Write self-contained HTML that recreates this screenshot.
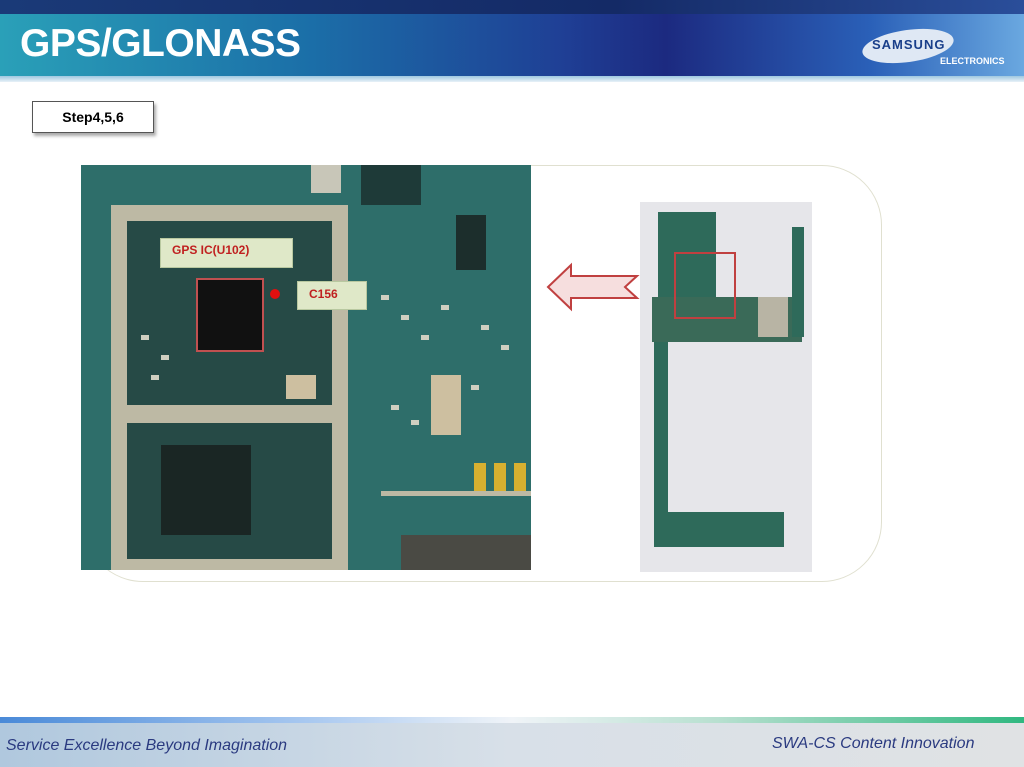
<!DOCTYPE html>
<html><head><meta charset="utf-8"><style>
body{margin:0;width:1024px;height:767px;overflow:hidden;background:#fff;font-family:"Liberation Sans",sans-serif;position:relative}
.a{position:absolute}
.c{position:absolute;width:8px;height:5px;background:#cfcfc0}
</style></head><body>
<div class="a" style="left:0;top:0;width:1024px;height:14px;background:linear-gradient(90deg,#1a3a78,#142a66 60%,#2a4e9a)"></div>
<div class="a" style="left:0;top:14px;width:1024px;height:64px;background:linear-gradient(90deg,#2aa0b8 0%,#1b6fa8 30%,#1f3f95 55%,#1c2a80 65%,#2a60b8 85%,#6aa8e0 100%)"></div>
<div class="a" style="left:0;top:76px;width:1024px;height:6px;background:linear-gradient(180deg,#9ec8e0,#e8f2f8)"></div>
<div class="a" style="left:20px;top:22px;font-size:39px;font-weight:bold;color:#fff;letter-spacing:-0.5px">GPS/GLONASS</div>
<div class="a" style="left:862px;top:30px;width:92px;height:32px;border-radius:50%;background:#dfe8f4;transform:rotate(-8deg)"></div>
<div class="a" style="left:872px;top:37px;font-size:13px;font-weight:bold;color:#1a3f8a;letter-spacing:1px">SAMSUNG</div>
<div class="a" style="left:940px;top:56px;font-size:9px;font-weight:bold;color:#fff">ELECTRONICS</div>

<div class="a" style="left:32px;top:101px;width:120px;height:30px;border:1px solid #555;background:#fff;box-shadow:2px 3px 3px #aaa;text-align:center;line-height:30px;font-size:14px;font-weight:bold">Step4,5,6</div>

<div class="a" style="left:83px;top:165px;width:797px;height:415px;border:1px solid #e0e0d0;border-radius:60px"></div>

<div class="a" style="left:81px;top:165px;width:450px;height:405px;background:#2e6e6a;overflow:hidden">
 <div class="a" style="left:30px;top:40px;width:237px;height:370px;border:16px solid #bdb9a4;box-sizing:border-box;background:#264a46"></div>
 <div class="a" style="left:30px;top:240px;width:237px;height:18px;background:#bdb9a4"></div>
 <div class="a" style="left:230px;top:0;width:30px;height:28px;background:#c8c6b8"></div>
 <div class="a" style="left:300px;top:326px;width:150px;height:5px;background:#bdb9a4"></div>
 <div class="a" style="left:393px;top:298px;width:12px;height:28px;background:#d8b030"></div>
 <div class="a" style="left:413px;top:298px;width:12px;height:28px;background:#d8b030"></div>
 <div class="a" style="left:433px;top:298px;width:12px;height:28px;background:#d8b030"></div>
 <div class="a" style="left:375px;top:50px;width:30px;height:55px;background:#1c2e2c"></div>
 <div class="a" style="left:280px;top:0;width:60px;height:40px;background:#1e3a38"></div>
 <div class="a" style="left:350px;top:210px;width:30px;height:60px;background:#cdbfa0"></div>
 <div class="a" style="left:320px;top:370px;width:130px;height:35px;background:#4a4a44"></div>
 <div class="a" style="left:80px;top:280px;width:90px;height:90px;background:#1a2624"></div>
 <div class="c" style="left:300px;top:130px"></div><div class="c" style="left:320px;top:150px"></div><div class="c" style="left:340px;top:170px"></div>
 <div class="c" style="left:310px;top:240px"></div><div class="c" style="left:330px;top:255px"></div><div class="c" style="left:360px;top:140px"></div>
 <div class="c" style="left:400px;top:160px"></div><div class="c" style="left:420px;top:180px"></div><div class="c" style="left:390px;top:220px"></div>
 <div class="c" style="left:60px;top:170px"></div><div class="c" style="left:80px;top:190px"></div><div class="c" style="left:70px;top:210px"></div>
 <div class="a" style="left:205px;top:210px;width:30px;height:24px;background:#cdbfa0"></div>
</div>
<div class="a" style="left:160px;top:238px;width:131px;height:28px;background:#dfe8c8;border:1px solid #b8c8a0"></div>
<div class="a" style="left:172px;top:243px;font-size:12px;font-weight:bold;color:#c02020">GPS IC(U102)</div>
<div class="a" style="left:196px;top:278px;width:68px;height:74px;border:2px solid #c05050;background:#111;box-sizing:border-box"></div>
<div class="a" style="left:270px;top:289px;width:10px;height:10px;border-radius:50%;background:#e01010"></div>
<div class="a" style="left:297px;top:281px;width:68px;height:27px;background:#dfe8c8;border:1px solid #b8c8a0"></div>
<div class="a" style="left:309px;top:287px;font-size:12px;font-weight:bold;color:#c02020">C156</div>

<svg class="a" style="left:545px;top:262px" width="96" height="50"><polygon points="3,25 26,3 26,14 92,14 80,25 92,36 26,36 26,47" fill="#f6dede" stroke="#c04040" stroke-width="2"/></svg>

<div class="a" style="left:640px;top:202px;width:172px;height:370px;background:#e6e6ea;overflow:hidden">
 <div class="a" style="left:18px;top:10px;width:58px;height:110px;background:#2e6a5a"></div>
 <div class="a" style="left:12px;top:95px;width:150px;height:45px;background:#3a6a58"></div>
 <div class="a" style="left:118px;top:95px;width:30px;height:40px;background:#b8b4a4"></div>
 <div class="a" style="left:14px;top:140px;width:14px;height:180px;background:#2e6a5a"></div>
 <div class="a" style="left:14px;top:310px;width:130px;height:35px;background:#2e6a5a"></div>
 <div class="a" style="left:152px;top:25px;width:12px;height:110px;background:#2e6a5a"></div>
 <div class="a" style="left:34px;top:50px;width:58px;height:63px;border:2px solid #c04040"></div>
</div>

<div class="a" style="left:0;top:717px;width:1024px;height:6px;background:linear-gradient(90deg,#4a8ad8,#a8c8f0 30%,#f0f4f8 50%,#b8e0d0 70%,#30b880)"></div>
<div class="a" style="left:0;top:723px;width:1024px;height:44px;background:linear-gradient(90deg,#b0c8de,#d8e0e8 50%,#e0e2e4)"></div>
<div class="a" style="left:6px;top:737px;font-size:16px;font-style:italic;color:#2a3a80">Service Excellence Beyond Imagination</div>
<div class="a" style="left:772px;top:735px;font-size:16px;font-style:italic;color:#2a3a80">SWA-CS Content Innovation</div>
</body></html>
